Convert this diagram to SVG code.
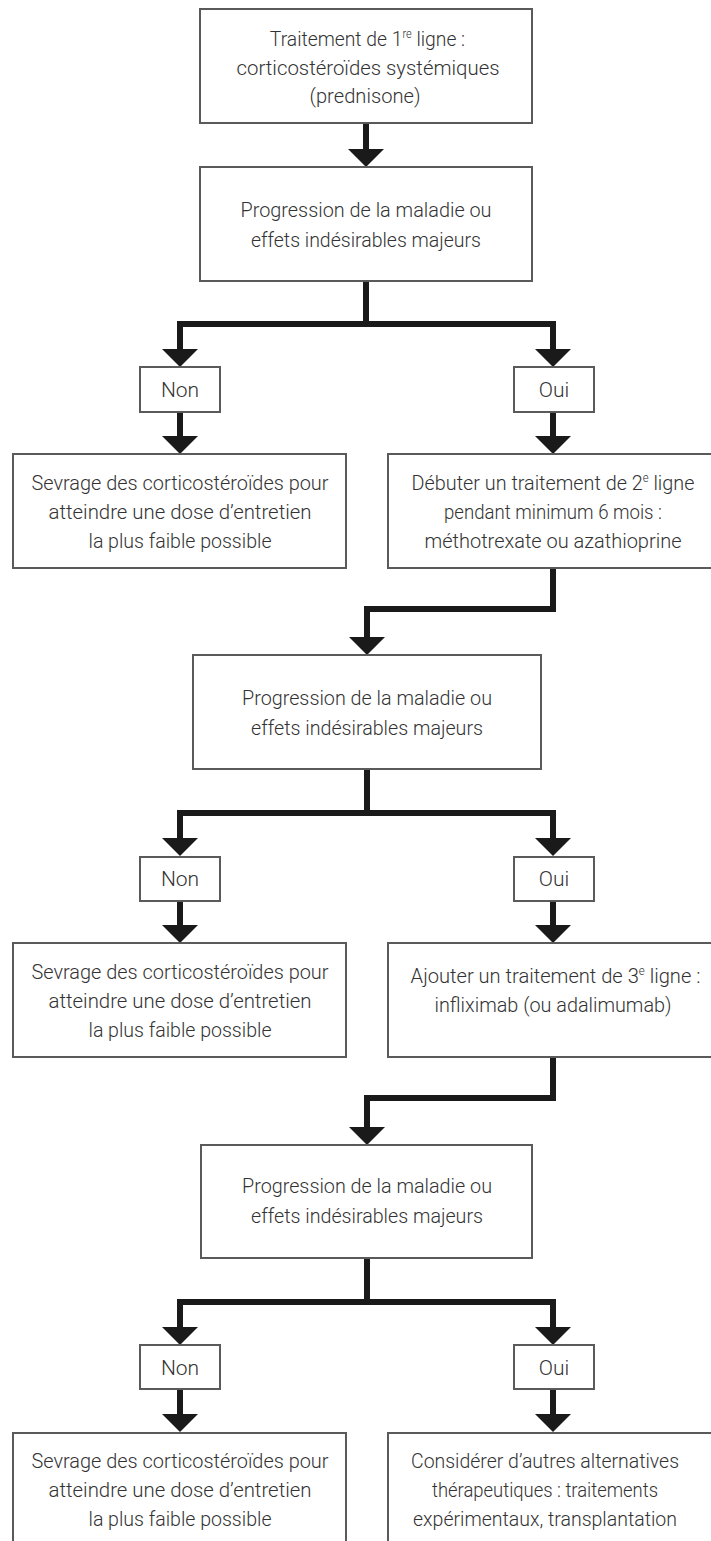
<svg xmlns="http://www.w3.org/2000/svg" width="711" height="1541" viewBox="0 0 711 1541">
<style>
.box{fill:#fff;stroke:#5a5a5a;stroke-width:2}
.t{font-family:Roboto,"Open Sans",sans-serif;font-size:21px;font-weight:300;fill:#333;text-anchor:middle}
.sp{font-size:12px}
.c{fill:none;stroke:#1a1a1a;stroke-width:6;stroke-linejoin:miter}
.h{fill:#1a1a1a}
</style>
<rect width="711" height="1541" fill="#fff"/>
<g id="connectors">
<path class="c" d="M366,123 V150"/>
<polygon class="h" points="348,149 384,149 366,167"/>
<path class="c" d="M366,281 V324 M180,350 V324 H553 V350"/>
<polygon class="h" points="162,349 198,349 180,367"/>
<polygon class="h" points="535,349 571,349 553,367"/>
<path class="c" d="M180,412 V437 M553,412 V437"/>
<polygon class="h" points="162,436 198,436 180,454"/>
<polygon class="h" points="535,436 571,436 553,454"/>
<path class="c" d="M553,568 V609 H367 V638"/>
<polygon class="h" points="349,637 385,637 367,655"/>
<path class="c" d="M367,769 V813 M180,839 V813 H553 V839"/>
<polygon class="h" points="162,838 198,838 180,856"/>
<polygon class="h" points="535,838 571,838 553,856"/>
<path class="c" d="M180,901 V926 M553,901 V926"/>
<polygon class="h" points="162,925 198,925 180,943"/>
<polygon class="h" points="535,925 571,925 553,943"/>
<path class="c" d="M553,1057 V1098 H367 V1128"/>
<polygon class="h" points="349,1127 385,1127 367,1145"/>
<path class="c" d="M367,1258 V1302 M180,1328 V1302 H553 V1328"/>
<polygon class="h" points="162,1327 198,1327 180,1345"/>
<polygon class="h" points="535,1327 571,1327 553,1345"/>
<path class="c" d="M180,1389 V1415 M553,1389 V1415"/>
<polygon class="h" points="162,1414 198,1414 180,1432"/>
<polygon class="h" points="535,1414 571,1414 553,1432"/>
</g>
<g id="n1">
<rect class="box" x="200" y="9" width="332" height="114"/>
<g transform="translate(367.5,46) scale(0.92,1)"><text class="t" x="0" y="0">Traitement de 1<tspan class="sp" dy="-8">re</tspan><tspan dy="8"> ligne :</tspan></text></g>
<text class="t" x="368" y="75" textLength="263" lengthAdjust="spacingAndGlyphs">corticostéroïdes systémiques</text>
<text class="t" x="365" y="103" textLength="111" lengthAdjust="spacingAndGlyphs">(prednisone)</text>
</g>
<g id="n2">
<rect class="box" x="200" y="167" width="332" height="114"/>
<text class="t" x="366" y="217" textLength="251" lengthAdjust="spacingAndGlyphs">Progression de la maladie ou</text>
<text class="t" x="366" y="247" textLength="230" lengthAdjust="spacingAndGlyphs">effets indésirables majeurs</text>
</g>
<g id="n3">
<rect class="box" x="140" y="367" width="80" height="45"/>
<text class="t" x="180" y="397">Non</text>
</g>
<g id="n4">
<rect class="box" x="514" y="367" width="80" height="45"/>
<text class="t" x="554" y="397">Oui</text>
</g>
<g id="n5">
<rect class="box" x="13" y="454" width="333" height="114"/>
<text class="t" x="180" y="490" textLength="297" lengthAdjust="spacingAndGlyphs">Sevrage des corticostéroïdes pour</text>
<text class="t" x="180" y="519" textLength="263" lengthAdjust="spacingAndGlyphs">atteindre une dose d’entretien</text>
<text class="t" x="180" y="548" textLength="183" lengthAdjust="spacingAndGlyphs">la plus faible possible</text>
</g>
<g id="n6">
<rect class="box" x="388" y="454" width="330" height="114"/>
<g transform="translate(553,490) scale(0.944,1)"><text class="t" x="0" y="0">Débuter un traitement de 2<tspan class="sp" dy="-8">e</tspan><tspan dy="8"> ligne</tspan></text></g>
<text class="t" x="553" y="519" textLength="218" lengthAdjust="spacingAndGlyphs">pendant minimum 6 mois :</text>
<text class="t" x="553" y="548" textLength="257" lengthAdjust="spacingAndGlyphs">méthotrexate ou azathioprine</text>
</g>
<g id="n7">
<rect class="box" x="193" y="655" width="348" height="114"/>
<text class="t" x="367" y="705" textLength="250" lengthAdjust="spacingAndGlyphs">Progression de la maladie ou</text>
<text class="t" x="367" y="735" textLength="232" lengthAdjust="spacingAndGlyphs">effets indésirables majeurs</text>
</g>
<g id="n8">
<rect class="box" x="140" y="857" width="80" height="44"/>
<text class="t" x="180" y="886">Non</text>
</g>
<g id="n9">
<rect class="box" x="514" y="857" width="80" height="44"/>
<text class="t" x="554" y="886">Oui</text>
</g>
<g id="n10">
<rect class="box" x="13" y="943" width="333" height="114"/>
<text class="t" x="180" y="979" textLength="297" lengthAdjust="spacingAndGlyphs">Sevrage des corticostéroïdes pour</text>
<text class="t" x="180" y="1008" textLength="263" lengthAdjust="spacingAndGlyphs">atteindre une dose d’entretien</text>
<text class="t" x="180" y="1037" textLength="183" lengthAdjust="spacingAndGlyphs">la plus faible possible</text>
</g>
<g id="n11">
<rect class="box" x="388" y="943" width="330" height="114"/>
<g transform="translate(555.5,983) scale(0.958,1)"><text class="t" x="0" y="0">Ajouter un traitement de 3<tspan class="sp" dy="-8">e</tspan><tspan dy="8"> ligne :</tspan></text></g>
<text class="t" x="553" y="1012" textLength="237" lengthAdjust="spacingAndGlyphs">infliximab (ou adalimumab)</text>
</g>
<g id="n12">
<rect class="box" x="201" y="1145" width="331" height="113"/>
<text class="t" x="367" y="1193" textLength="250" lengthAdjust="spacingAndGlyphs">Progression de la maladie ou</text>
<text class="t" x="367" y="1223" textLength="232" lengthAdjust="spacingAndGlyphs">effets indésirables majeurs</text>
</g>
<g id="n13">
<rect class="box" x="140" y="1345" width="80" height="44"/>
<text class="t" x="180" y="1375">Non</text>
</g>
<g id="n14">
<rect class="box" x="514" y="1345" width="80" height="44"/>
<text class="t" x="554" y="1375">Oui</text>
</g>
<g id="n15">
<rect class="box" x="13" y="1433" width="333" height="130"/>
<text class="t" x="180" y="1468" textLength="297" lengthAdjust="spacingAndGlyphs">Sevrage des corticostéroïdes pour</text>
<text class="t" x="180" y="1497" textLength="263" lengthAdjust="spacingAndGlyphs">atteindre une dose d’entretien</text>
<text class="t" x="180" y="1526" textLength="183" lengthAdjust="spacingAndGlyphs">la plus faible possible</text>
</g>
<g id="n16">
<rect class="box" x="388" y="1433" width="330" height="130"/>
<text class="t" x="545" y="1468" textLength="268" lengthAdjust="spacingAndGlyphs">Considérer d’autres alternatives</text>
<text class="t" x="545" y="1497" textLength="226" lengthAdjust="spacingAndGlyphs">thérapeutiques : traitements</text>
<text class="t" x="545" y="1526" textLength="264" lengthAdjust="spacingAndGlyphs">expérimentaux, transplantation</text>
</g>
</svg>
